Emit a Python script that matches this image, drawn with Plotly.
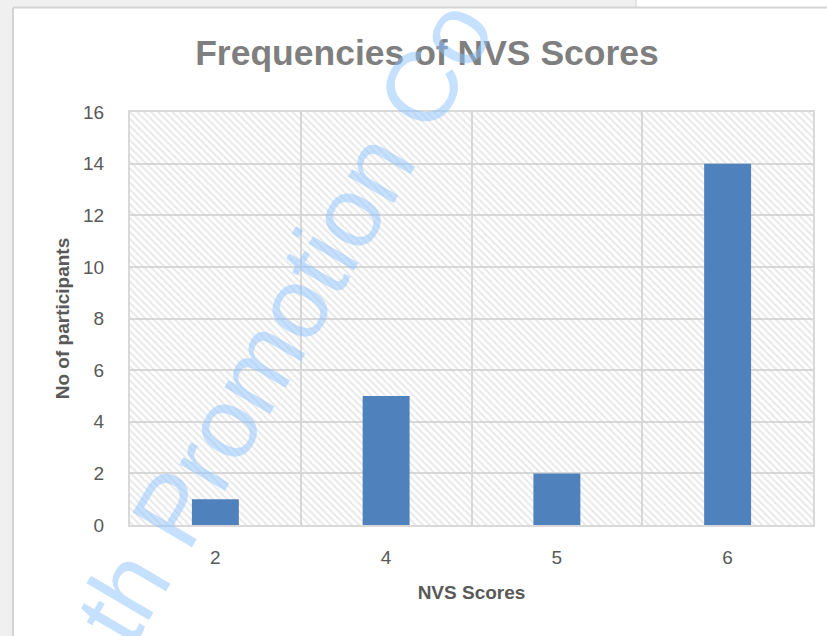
import plotly.graph_objects as go

categories = ["2", "4", "5", "6"]
counts = [1, 5, 2, 14]
y_ticks = [0, 2, 4, 6, 8, 10, 12, 14, 16]
title_text = "Frequencies of NVS Scores"
x_title = "NVS Scores"
y_title = "No of participants"
watermark = "th Promotion Co"

W, H = 827, 636
L, R, T, B = 130, 14, 112, 111
pw, ph = W - L - R, H - T - B

def px(x):
    return (x - L) / pw

def py(y):
    return (H - B - y) / ph

fig = go.Figure()

# hatched plot-area background (one full-width bar per category slot)
fig.add_trace(go.Bar(
    x=categories, y=[max(y_ticks)] * len(categories), width=1,
    marker=dict(color="rgba(0,0,0,0)", line=dict(width=0),
                pattern=dict(shape="\\", fgcolor="#cfcfcf", bgcolor="rgba(0,0,0,0)",
                             size=5, solidity=0.35)),
    hoverinfo="skip", showlegend=False,
))

fig.add_trace(go.Bar(
    x=categories, y=counts, width=0.275,
    marker=dict(color="#4f81bd", line=dict(width=0)),
    showlegend=False,
))

gray_font = dict(family="Liberation Sans", color="#595959")

fig.update_layout(
    width=W, height=H,
    margin=dict(l=L, r=R, t=T, b=B),
    paper_bgcolor="white", plot_bgcolor="white",
    barmode="overlay",
    title=dict(text="<b>" + title_text + "</b>", xref="container", x=427 / W,
               xanchor="center", yref="container", y=1 - 53 / H, yanchor="middle",
               font=dict(family="Liberation Sans", size=35.5, color="#7f7f7f")),
    xaxis=dict(type="category", categoryorder="array", categoryarray=categories,
               tickson="boundaries", showgrid=True, gridcolor="#d9d9d9", gridwidth=2,
               showline=True, mirror=True, linecolor="#d9d9d9", linewidth=2,
               ticks="", ticklabelstandoff=14,
               tickfont=dict(size=19, **gray_font),
               title=dict(text="<b>" + x_title + "</b>", standoff=19,
                          font=dict(size=19, **gray_font)),
               zeroline=False),
    yaxis=dict(range=[0, 16], tickvals=y_ticks, showgrid=True, gridcolor="#d9d9d9",
               gridwidth=2, showline=True, mirror=True, linecolor="#d9d9d9", linewidth=2,
               ticks="", ticklabelstandoff=20, zeroline=False,
               tickfont=dict(size=19, **gray_font),
               title=dict(text="<b>" + y_title + "</b>", standoff=8,
                          font=dict(size=19, **gray_font))),
)

# document frame around the chart
fig.add_shape(type="rect", xref="paper", yref="paper",
              x0=px(0), x1=px(W), y0=py(0), y1=py(7),
              fillcolor="#f0f0f0", line=dict(width=0), layer="above")
fig.add_shape(type="rect", xref="paper", yref="paper",
              x0=px(636), x1=px(W), y0=py(0), y1=py(7),
              fillcolor="white", line=dict(width=0), layer="above")
fig.add_shape(type="line", xref="paper", yref="paper",
              x0=px(636), x1=px(636), y0=py(0), y1=py(7),
              line=dict(color="#d0d0d0", width=1), layer="above")
fig.add_shape(type="rect", xref="paper", yref="paper",
              x0=px(0), x1=px(12), y0=py(0), y1=py(H),
              fillcolor="#f0f0f0", line=dict(width=0), layer="above")
fig.add_shape(type="line", xref="paper", yref="paper",
              x0=px(13), x1=px(W), y0=py(7.5), y1=py(7.5),
              line=dict(color="#d4d4d4", width=2), layer="above")
fig.add_shape(type="line", xref="paper", yref="paper",
              x0=px(13), x1=px(13), y0=py(7.5), y1=py(H),
              line=dict(color="#d4d4d4", width=2), layer="above")

# watermark
fig.add_annotation(text=watermark, xref="paper", yref="paper",
                   x=px(284), y=py(321), xanchor="center", yanchor="middle",
                   showarrow=False, textangle=-59.6,
                   font=dict(family="Liberation Sans", size=100,
                             color="rgba(140,196,255,0.5)"))

fig.write_html("out.html", config={"displayModeBar": False},
               post_script="document.body.style.margin='0';document.body.style.overflow='hidden';")
